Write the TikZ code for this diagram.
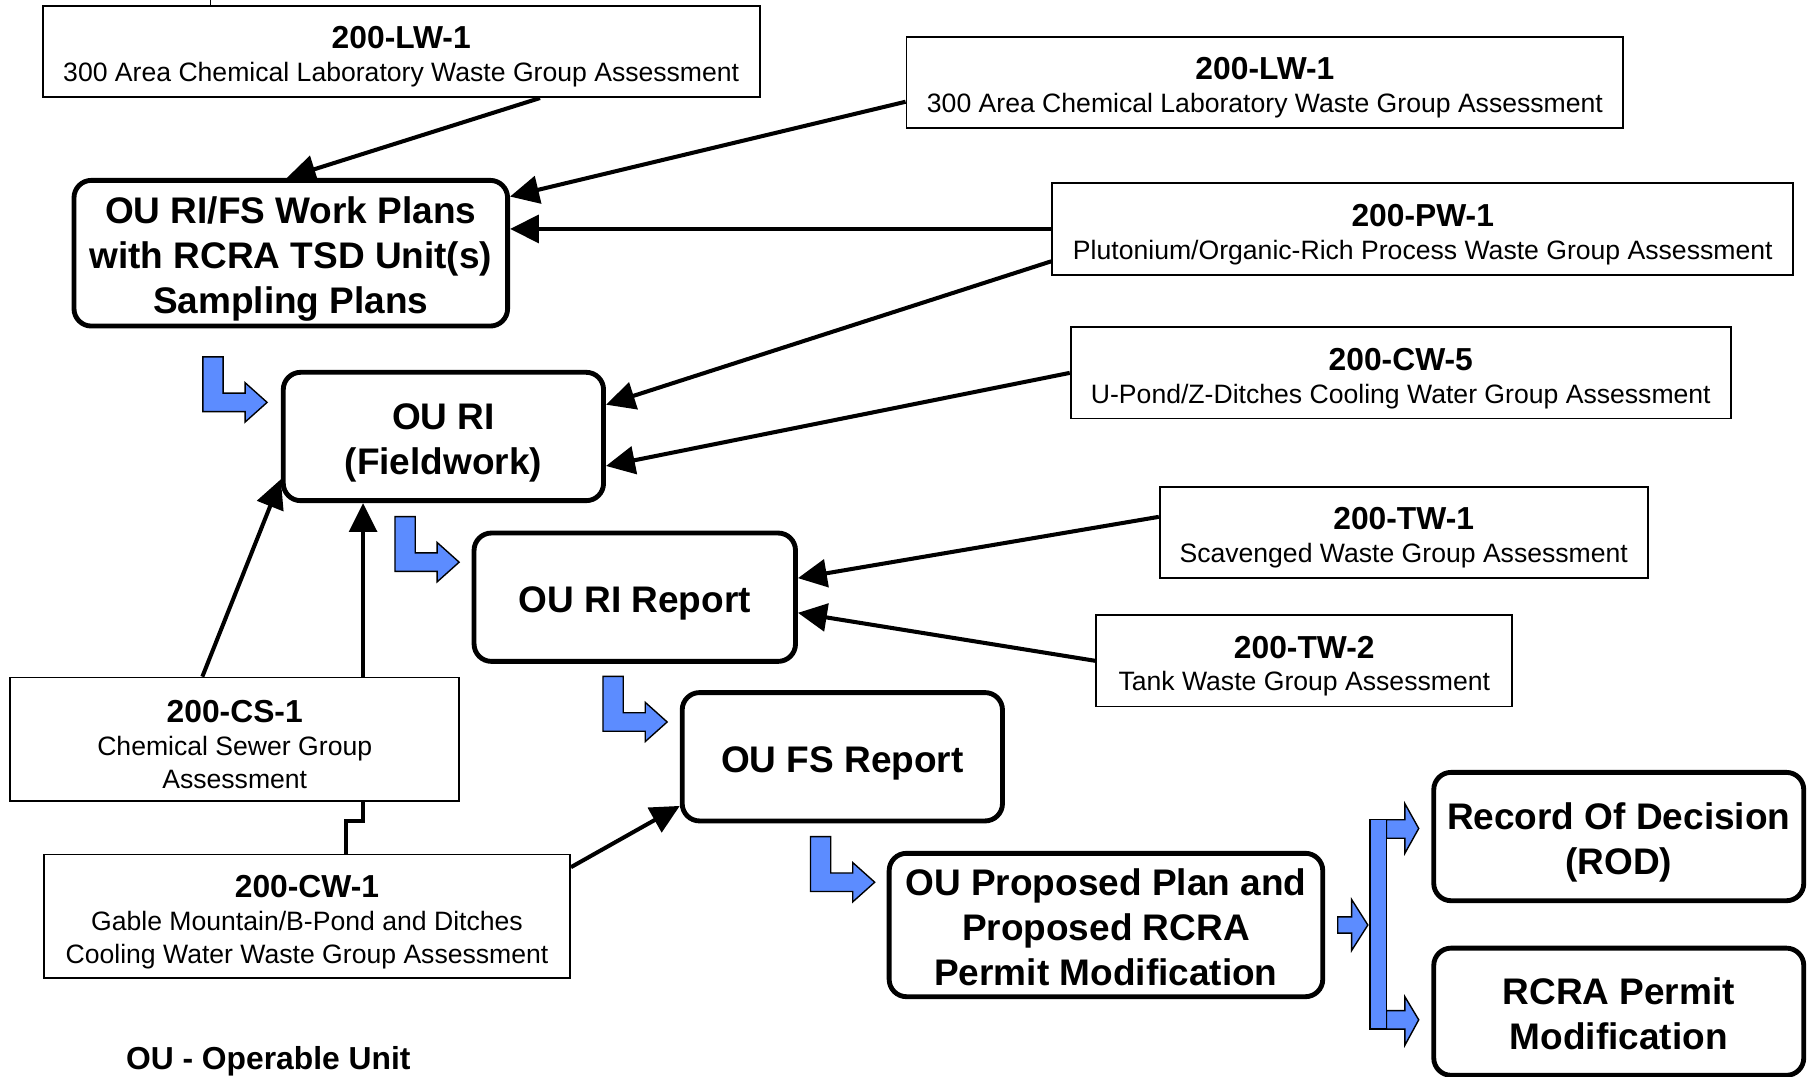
\documentclass[tikz,border=0pt]{standalone}
\usepackage{fontspec}
\setmainfont{Liberation Sans}
\usetikzlibrary{arrows.meta,calc}
\definecolor{blu}{RGB}{92,140,255}
\newcommand\ttl{\rule{0pt}{28.5pt}\fontsize{27.5}{29}\selectfont\bfseries}
\newcommand\bst{\rule{0pt}{33pt}}
\newcommand\bsts{\rule{0pt}{27pt}}
\begin{document}
\begin{tikzpicture}[x=1pt,y=-1pt,
  grp/.style={draw, line width=1.6pt, inner sep=0pt, align=center, font=\fontsize{23}{28.5}\selectfont},
  stepbox/.style={draw, line width=4.2pt, rounded corners=15pt, inner sep=0pt, align=center, font=\fontsize{32}{39}\selectfont\bfseries},
  conn/.style={line width=3.5pt, -{Triangle[length=25pt,width=24pt]}},
  link/.style={line width=3.5pt},
  bluefill/.style={fill=blu, draw=black, line width=1.2pt},
  bentarrow/.pic={\filldraw[bluefill] (0,0) -- (17.5,0) -- (17.5,31.4) -- (36.5,31.4) -- (36.5,22.4) -- (55.5,39.4) -- (36.5,56.4) -- (36.5,47.4) -- (0,47.4) -- cycle;}
]
\useasboundingbox (0,0) rectangle (1568,931);

% group assessment boxes
\node[grp, minimum width=620pt, minimum height=79pt] (lwL) at (347,44.5) {{\ttl 200-LW-1}\\300 Area Chemical Laboratory Waste Group Assessment};
\node[grp, minimum width=620pt, minimum height=79pt] (lwR) at (1094,71.5) {{\ttl 200-LW-1}\\300 Area Chemical Laboratory Waste Group Assessment};
\node[grp, minimum width=641pt, minimum height=80pt] (pw) at (1230.5,198) {{\ttl 200-PW-1}\\Plutonium/Organic-Rich Process Waste Group Assessment};
\node[grp, minimum width=571pt, minimum height=79pt] (cw5) at (1211.5,322.5) {{\ttl 200-CW-5}\\U-Pond/Z-Ditches Cooling Water Group Assessment};
\node[grp, minimum width=422pt, minimum height=79pt] (tw1) at (1214,460.5) {{\ttl 200-TW-1}\\Scavenged Waste Group Assessment};
\node[grp, minimum width=360pt, minimum height=79pt] (tw2) at (1128,571.5) {{\ttl 200-TW-2}\\Tank Waste Group Assessment};
\node[grp, minimum width=388pt, minimum height=107pt] (cs1) at (203,639.5) {{\ttl 200-CS-1}\\Chemical Sewer Group\\Assessment};
\node[grp, minimum width=455pt, minimum height=107pt] (cw1) at (265.5,792.5) {{\ttl 200-CW-1}\\Gable Mountain/B-Pond and Ditches\\Cooling Water Waste Group Assessment};

% process boxes
\node[stepbox, minimum width=375pt, minimum height=126pt] (wp) at (251.5,219) {\bst OU RI/FS Work Plans\\with RCRA TSD Unit(s)\\Sampling Plans};
\node[stepbox, minimum width=277pt, minimum height=111pt] (ri) at (383.5,377.5) {\bst OU RI\\(Fieldwork)};
\node[stepbox, minimum width=278pt, minimum height=111pt] (rir) at (549,516.5) {\bst OU RI Report};
\node[stepbox, minimum width=277pt, minimum height=111pt] (fs) at (728.5,654.5) {\bst OU FS Report};
\node[stepbox, minimum width=375pt, minimum height=124pt] (pp) at (956.5,800) {\bsts OU Proposed Plan and\\Proposed RCRA\\Permit Modification};
\node[stepbox, minimum width=320pt, minimum height=111pt] (rod) at (1400,723.5) {\bst Record Of Decision\\(ROD)};
\node[stepbox, minimum width=320pt, minimum height=110pt] (rcra) at (1400,875) {\bsts RCRA Permit\\Modification};

\node[font=\fontsize{27.5}{30}\selectfont\bfseries] (legend) at (232,918) {OU - Operable Unit};

% stub at top
\coordinate (topstub) at (182,0);
\draw[line width=1.6pt] ([xshift=-165pt]lwL.north) -- (topstub);

% black connectors
\draw[conn] ([xshift=120pt]lwL.south) -- ([xshift=-3.5pt]wp.north);
\draw[conn] ([yshift=-16.5pt]lwR.west) -- ([yshift=49pt]wp.east);
\draw[conn] (pw.west) -- (pw.west -| wp.east);
\draw[conn] ([yshift=-28pt]pw.west) -- ([yshift=27.5pt]ri.east);
\draw[conn] (cw5.west) -- ([yshift=-25.5pt]ri.east);
\draw[conn] ([yshift=13.5pt]tw1.west) -- ([yshift=16.5pt]rir.east);
\draw[conn] (tw2.west) -- ([yshift=-13.5pt]rir.east);
\draw[conn] ([xshift=-28pt]cs1.north) -- ([yshift=-37pt]ri.west);
\draw[conn] ([xshift=111pt]cs1.north) -- ([xshift=111pt]cs1.north |- ri.south);
\draw[link] ([xshift=33.5pt]cw1.north) -- ++(0pt,28pt) -| ([xshift=111pt]cs1.south);
\draw[conn] ([yshift=42.5pt]cw1.east) -- ([yshift=-42.5pt]fs.west);

% blue step arrows
\pic at (175.5,308.6) {bentarrow};
\pic at (341.6,446.8) {bentarrow};
\pic at (521.5,585) {bentarrow};
\pic at (701,723.6) {bentarrow};

% fork
\filldraw[bluefill] (1157,793) -- (1169,793) -- (1169,778) -- (1183,800) -- (1169,822) -- (1169,807) -- (1157,807) -- cycle;
\filldraw[bluefill] (1199,709) -- (1215,709) -- (1215,695) -- (1227,716.5) -- (1215,738) -- (1215,725) -- (1199,725) -- cycle;
\filldraw[bluefill] (1199,874) -- (1215,874) -- (1215,862) -- (1227,882) -- (1215,904) -- (1215,890) -- (1199,890) -- cycle;
\filldraw[bluefill] (1185,709) rectangle (1199,890);
\end{tikzpicture}
\end{document}
